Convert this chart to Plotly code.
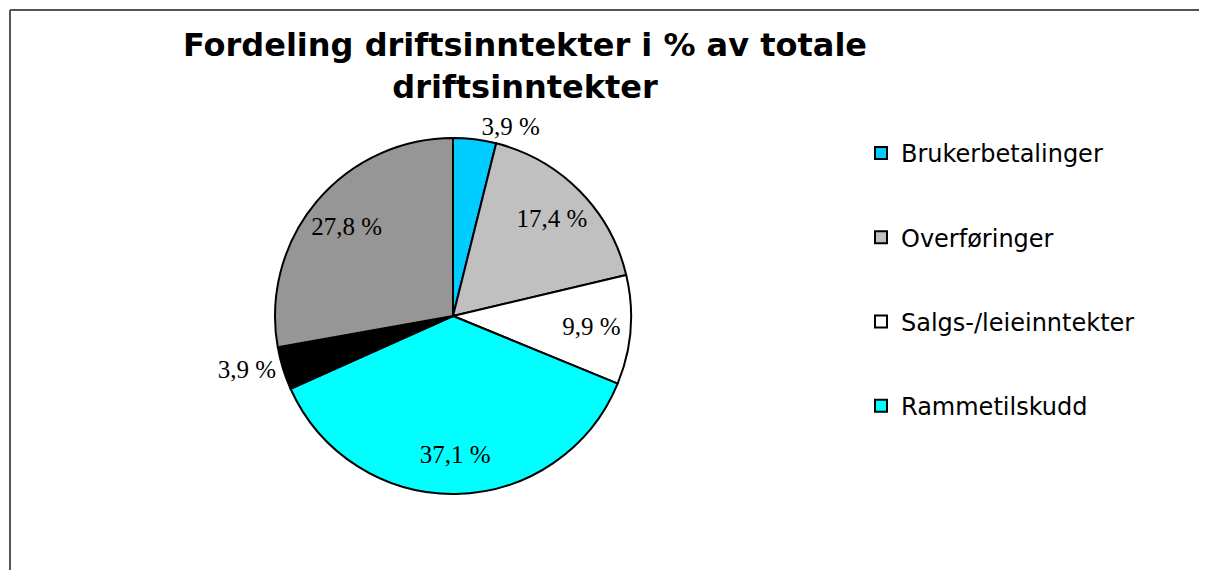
import plotly.graph_objects as go

# slices clockwise from 12 o'clock
slice_labels = ["Brukerbetalinger", "Overføringer", "Salgs-/leieinntekter",
                "Rammetilskudd", "Annet 1", "Annet 2"]
slice_values = [3.9, 17.4, 9.9, 37.1, 3.9, 27.8]
slice_colors = ["#00CCFF", "#C0C0C0", "#FFFFFF", "#00FFFF", "#000000", "#969696"]
label_pos = ["outside", "inside", "inside", "inside", "outside", "inside"]

legend_labels = ["Brukerbetalinger", "Overføringer", "Salgs-/leieinntekter", "Rammetilskudd"]
legend_colors = ["#00CCFF", "#C0C0C0", "#FFFFFF", "#00FFFF"]

W, H = 1207, 570
pie_dom = dict(x=[267 / W, 623 / W], y=[1 - 486 / H, 1 - 130 / H])

fig = go.Figure()
fig.add_trace(go.Pie(
    labels=slice_labels,
    values=slice_values,
    sort=False,
    direction="clockwise",
    rotation=0,
    marker=dict(colors=slice_colors, line=dict(color="black", width=2)),
    textinfo="none",
    domain=pie_dom,
    showlegend=False,
    hoverinfo="label+value",
))
# transparent ring on top, only to push the labels further out like Excel does
fig.add_trace(go.Pie(
    labels=slice_labels,
    values=slice_values,
    sort=False,
    direction="clockwise",
    rotation=0,
    hole=0.56,
    marker=dict(colors=["rgba(0,0,0,0)"] * len(slice_values),
                line=dict(width=0)),
    texttemplate="%{value:.1f} %",
    textposition=label_pos,
    textfont=dict(family="Liberation Serif", size=25, color="black"),
    insidetextorientation="horizontal",
    domain=pie_dom,
    showlegend=False,
    hoverinfo="skip",
))

# legend-only dummy traces (the pie has six slices, the legend only four)
for i, (name, col) in enumerate(zip(legend_labels, legend_colors)):
    fig.add_trace(go.Scatter(
        x=[None], y=[None], mode="markers", name=name,
        legendgroup=f"g{i}",
        marker=dict(symbol="square", size=12, color=col,
                    line=dict(color="black", width=2)),
    ))

fig.update_layout(
    width=W, height=H,
    margin=dict(l=0, r=0, t=0, b=0),
    paper_bgcolor="white",
    plot_bgcolor="white",
    separators=", ",
    xaxis=dict(visible=False),
    yaxis=dict(visible=False),
    title=dict(
        text="<b>Fordeling driftsinntekter i % av totale<br>driftsinntekter</b>",
        font=dict(family="DejaVu Sans", size=32, color="black"),
        x=517 / W, xanchor="center",
        y=1 - 48 / H, yanchor="top",
    ),
    legend=dict(
        x=853 / W, xanchor="left",
        y=1 - 123 / H, yanchor="top",
        font=dict(family="DejaVu Sans", size=24, color="black"),
        tracegroupgap=50,
        bgcolor="rgba(0,0,0,0)",
    ),
    shapes=[
        dict(type="line", xref="paper", yref="paper",
             x0=2 / W, x1=1, y0=1 - 2 / H, y1=1 - 2 / H,
             line=dict(color="#555555", width=2)),
        dict(type="line", xref="paper", yref="paper",
             x0=2 / W, x1=2 / W, y0=0, y1=1 - 2 / H,
             line=dict(color="#555555", width=2)),
    ],
)

fig.write_html("out.html")
